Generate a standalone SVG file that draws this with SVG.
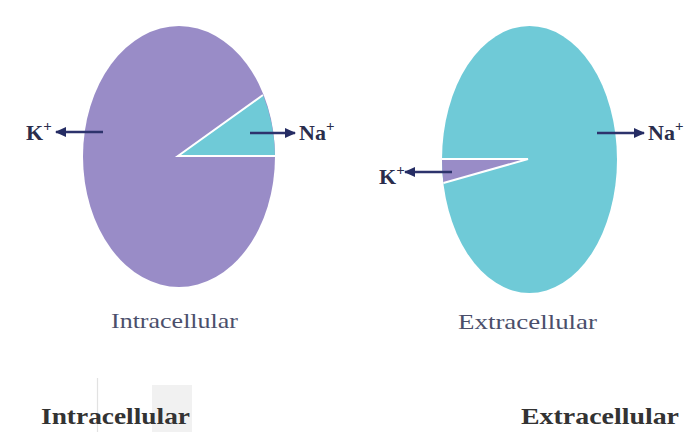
<svg xmlns="http://www.w3.org/2000/svg" width="695" height="432" viewBox="0 0 695 432">
  <defs>
    <marker id="ah" markerUnits="userSpaceOnUse" markerWidth="12" markerHeight="10" refX="10" refY="5" orient="auto">
      <path d="M0,0 L11,5 L0,10 Z" fill="#252c63"/>
    </marker>
  </defs>
  <style>
    .purple { fill: #998cc7; }
    .cyan { fill: #6fcad7; }
    .edge { stroke: #ffffff; stroke-width: 2; fill: none; }
    .arrow { stroke: #2d336c; stroke-width: 2.5; fill: none; marker-end: url(#ah); }
    .ion { font-family: "Liberation Serif", "Times New Roman", serif; font-weight: bold; font-size: 22px; fill: #2a2d4c; }
    .sup { font-size: 15px; }
    .cap { font-family: "Liberation Serif", "Times New Roman", serif; font-size: 22px; fill: #4b4f6b; }
    .title { font-family: "Liberation Serif", "Times New Roman", serif; font-weight: bold; font-size: 23px; fill: #333333; }
  </style>
  <rect width="695" height="432" fill="#ffffff"/>
  <line x1="97.5" y1="378" x2="97.5" y2="432" stroke="#e2e2e2" stroke-width="1.2"/>
  <rect x="152" y="385" width="40" height="47" fill="#f1f1f1"/>

  <g id="cell-intracellular">
    <ellipse class="purple" cx="179" cy="156.5" rx="96" ry="130.5"/>
    <path class="cyan" d="M178,156 L263,95 A96,130.5 0 0 1 275,156 Z"/>
    <path class="edge" d="M263,95 L178,156 L275,156"/>
    <text class="cap" x="111" y="328" textLength="127" lengthAdjust="spacingAndGlyphs">Intracellular</text>
  </g>

  <g id="cell-extracellular">
    <ellipse class="cyan" cx="529.5" cy="159.5" rx="87.5" ry="133.5"/>
    <path class="purple" d="M528,159 L442,159 A87.5,133.5 0 0 0 443.4,183 Z"/>
    <path class="edge" d="M442,159 L528,159 L443.4,183"/>
    <text class="cap" x="458" y="329" textLength="139" lengthAdjust="spacingAndGlyphs">Extracellular</text>
  </g>

  <g id="ion-labels">
    <text class="ion" x="26" y="140">K<tspan class="sup" dy="-9">+</tspan></text>
    <text class="ion" x="299" y="140">Na<tspan class="sup" dy="-9">+</tspan></text>
    <text class="ion" x="379" y="184">K<tspan class="sup" dy="-9">+</tspan></text>
    <text class="ion" x="648" y="140">Na<tspan class="sup" dy="-9">+</tspan></text>
  </g>

  <g id="connectors">
    <line class="arrow" x1="103" y1="132" x2="56" y2="132"/>
    <line class="arrow" x1="250" y1="133" x2="295" y2="133"/>
    <line class="arrow" x1="452" y1="172" x2="405" y2="172"/>
    <line class="arrow" x1="597" y1="133" x2="644" y2="133"/>
  </g>

  <g id="titles">
    <text class="title" x="41" y="424" textLength="149" lengthAdjust="spacingAndGlyphs">Intracellular</text>
    <text class="title" x="521" y="424" textLength="158" lengthAdjust="spacingAndGlyphs">Extracellular</text>
  </g>
</svg>
